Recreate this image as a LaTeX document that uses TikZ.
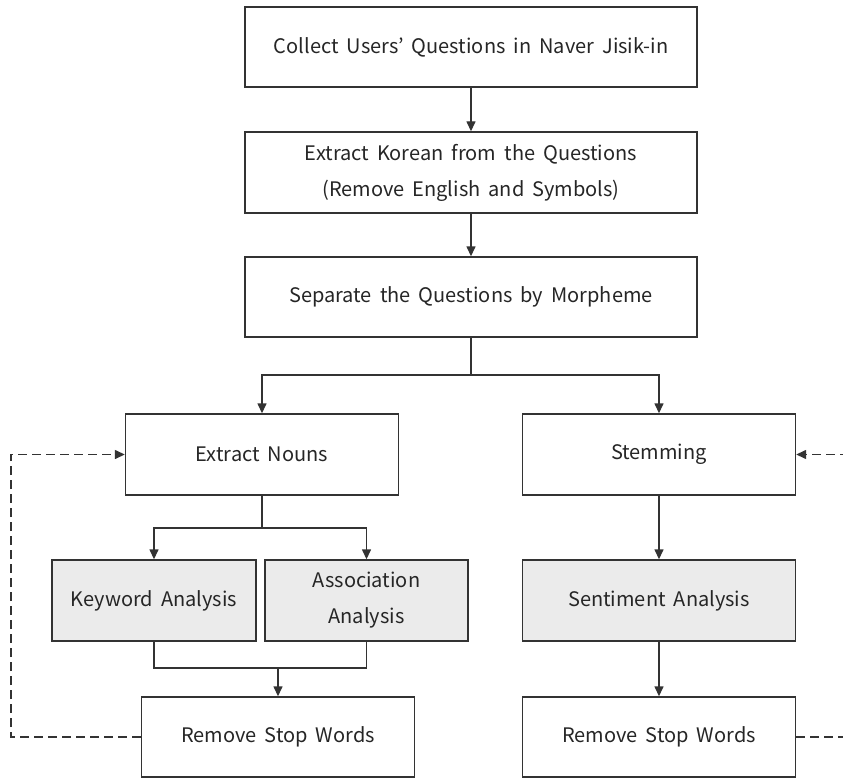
\documentclass[tikz,border=0pt]{standalone}
\usepackage{fontspec}
\setmainfont[WordSpace=1.8]{Noto Sans CJK KR}
\usetikzlibrary{positioning,arrows.meta,calc}
\definecolor{lineGray}{HTML}{333333}
\definecolor{textGray}{HTML}{262626}
\definecolor{anaFill}{HTML}{EBEBEB}
\tikzset{
  procbox/.style={draw=lineGray, line width=1.4pt, fill=white, align=center,
                  text=textGray, inner sep=0pt,
                  font=\fontsize{20}{36}\selectfont},
  wideproc/.style={procbox, minimum width=452pt, minimum height=80pt},
  sideproc/.style={procbox, minimum width=273pt, minimum height=81pt},
  anabox/.style={procbox, fill=anaFill, minimum width=204pt,
                 minimum height=81pt},
  flowline/.style={draw=lineGray, line width=1.4pt},
  flowarrow/.style={flowline, -{Triangle[length=10pt,width=9pt]}},
  feedback/.style={flowarrow, dash pattern=on 9pt off 5pt},
}

\begin{document}
\begin{tikzpicture}[x=1pt, y=-1pt]
\useasboundingbox (0,0) rectangle (843,778);
\clip (0,0) rectangle (843,778);
\def\xMid{471}    % centre of the top column
\def\xLeft{262}   % centre of the nouns branch
\def\xRight{659}  % centre of the stemming branch

%% Top column
\node[wideproc] (collect)  at (\xMid, 47)    {Collect Users' Questions in Naver Jisik-in};
\node[wideproc, minimum height=81pt] (extract) at (\xMid, 172.5)
  {Extract Korean from the Questions\\(Remove English and Symbols)};
\node[wideproc] (separate) at (\xMid, 297)   {Separate the Questions by Morpheme};

%% Branches
\node[sideproc] (nouns)     at (\xLeft, 454.5)  {Extract Nouns};
\node[sideproc] (stem)      at (\xRight, 454.5) {Stemming};
\node[anabox]   (keyword)   at (154, 600.5)     {Keyword Analysis};
\node[anabox, minimum width=203pt] (assoc) at (366.5, 600.5) {Association\\Analysis};
\node[sideproc, fill=anaFill] (sentiment) at (\xRight, 600.5) {Sentiment Analysis};
\node[sideproc, minimum height=80pt] (stopL) at (278, 737)     {Remove Stop Words};
\node[sideproc, minimum height=80pt] (stopR) at (\xRight, 737) {Remove Stop Words};

%% Split and join points
\coordinate (splitA) at (\xMid, 375);
\coordinate (splitB) at (\xLeft, 528);
\coordinate (joinC)  at (278, 668);

%% Connectors
\foreach \a/\b in {collect/extract, extract/separate, stem/sentiment, sentiment/stopR}
  \draw[flowarrow] (\a) -- (\b);
\draw[flowline] (separate.south) -- (splitA);
\draw[flowarrow] (splitA) -| (nouns.north);
\draw[flowarrow] (splitA) -| (stem.north);
\draw[flowline] (nouns.south) -- (splitB);
\draw[flowarrow] (splitB) -| (keyword.north);
\draw[flowarrow] (splitB) -| (assoc.north);
\draw[flowline] (keyword.south) |- (joinC) -| (assoc.south);
\draw[flowarrow] (joinC) -- (stopL.north);

%% Feedback loops
\draw[feedback] (stopL.west) -- ++(-130,0) |- (nouns.west);
\draw[feedback] (stopR.east) -- ++(60,0) |- (stem.east);
\end{tikzpicture}
\end{document}
